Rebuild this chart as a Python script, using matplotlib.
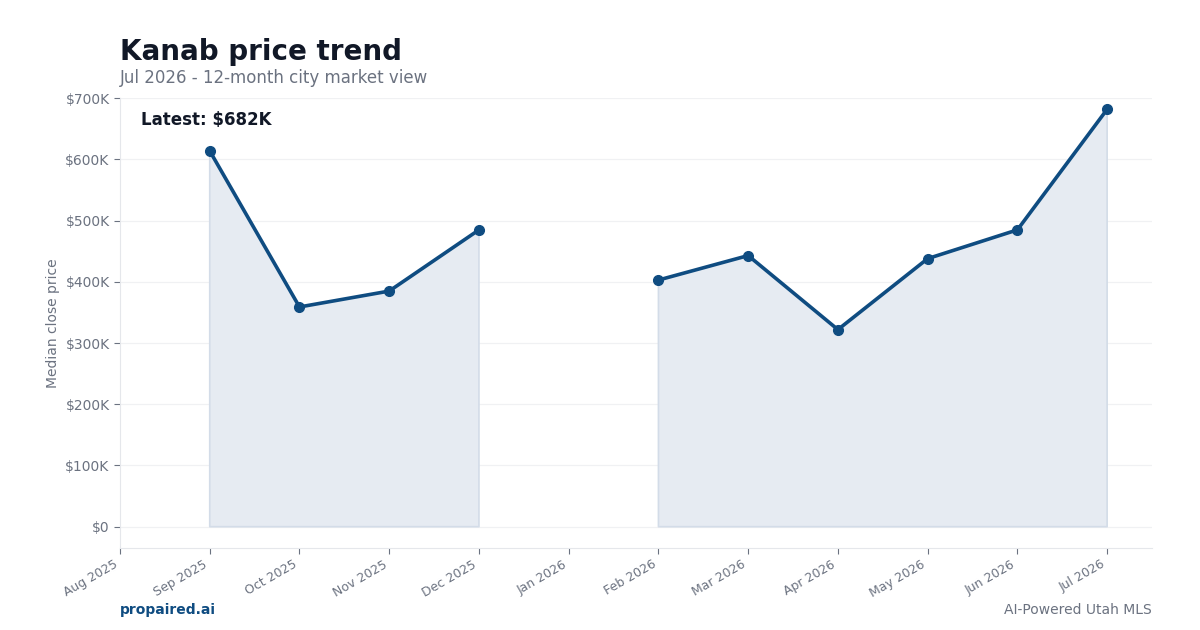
import numpy as np
import matplotlib
matplotlib.use("Agg")
import matplotlib.pyplot as plt
from matplotlib.ticker import FuncFormatter

months = ["Aug 2025", "Sep 2025", "Oct 2025", "Nov 2025", "Dec 2025", "Jan 2026",
          "Feb 2026", "Mar 2026", "Apr 2026", "May 2026", "Jun 2026", "Jul 2026"]
median_price = [np.nan, 614000, 359000, 385000, 485000, np.nan,
                403000, 443000, 322000, 438000, 485000, 682000]
latest_label = "Latest: $682K"

plt.rcParams['font.family'] = ['DejaVu Sans']

x = np.arange(len(months))
y = np.array(median_price, dtype=float)

fig = plt.figure(figsize=(12, 6.3), dpi=100)
ax = fig.add_axes([0.1, 0.13, 0.86, 0.714])

line_color = "#0f4c81"
gray = "#6b7280"

ax.fill_between(x, 0, y, facecolor="#e6ebf2", edgecolor="#d3dce8", linewidth=1.2, zorder=1)
ax.plot(x, y, color=line_color, linewidth=2.6, marker="o", markersize=7, zorder=3)

ax.set_xlim(0, 11.5)
ax.set_ylim(-35000, 700000)
ax.set_yticks(np.arange(0, 700001, 100000))
ax.yaxis.set_major_formatter(FuncFormatter(lambda v, p: "$0" if v == 0 else f"${int(v/1000)}K"))
ax.set_xticks(x)
ax.set_xticklabels(months, rotation=30, ha="right")

ax.grid(axis="y", color="#f0f1f3", linewidth=0.9)
ax.set_axisbelow(True)
for s in ["top", "right"]:
    ax.spines[s].set_visible(False)
for s in ["left", "bottom"]:
    ax.spines[s].set_color("#e5e7eb")
ax.tick_params(axis="both", colors="#6b7280", labelcolor=gray, length=4)
ax.tick_params(axis="x", labelsize=9, pad=3)
ax.tick_params(axis="y", labelsize=10)
ax.set_ylabel("Median close price", color=gray, fontsize=10)

ax.text(0.02, 0.951, latest_label, transform=ax.transAxes, fontsize=12,
        fontweight="bold", color="#111827", va="center", ha="left")

fig.text(0.1, 0.918, "Kanab price trend", fontsize=20, fontweight="bold",
         color="#111827", ha="left", va="center")
fig.text(0.1, 0.876, "Jul 2026 - 12-month city market view", fontsize=12,
         color=gray, ha="left", va="center")
fig.text(0.1, 0.032, "propaired.ai", fontsize=10, fontweight="bold",
         color=line_color, ha="left", va="center")
fig.text(0.96, 0.032, "AI-Powered Utah MLS", fontsize=10, color=gray,
         ha="right", va="center")

fig.savefig("out.png", dpi=100)
